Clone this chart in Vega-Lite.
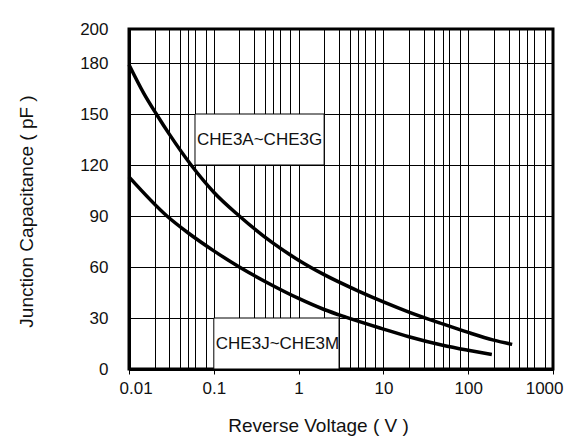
{
  "$schema": "https://vega.github.io/schema/vega-lite/v6.json",
  "width": 424,
  "height": 340,
  "autosize": {"type": "none"},
  "padding": {"left": 129, "top": 29, "right": 17, "bottom": 69},
  "background": "white",
  "config": {
    "view": {"stroke": "black", "strokeWidth": 3},
    "font": "Liberation Sans",
    "axis": {
      "gridColor": "black",
      "gridOpacity": 1,
      "gridWidth": 1,
      "domainColor": "black",
      "domainWidth": 3,
      "tickColor": "black",
      "labelColor": "#111",
      "titleColor": "#111",
      "labelFont": "Liberation Sans",
      "titleFont": "Liberation Sans",
      "labelFontSize": 17,
      "titleFontSize": 19,
      "titleFontWeight": "normal"
    }
  },
  "datasets": {
    "curves": [
      {"series": "CHE3A~CHE3G", "v": 0.01, "c": 179},
      {"series": "CHE3A~CHE3G", "v": 0.015, "c": 162},
      {"series": "CHE3A~CHE3G", "v": 0.021, "c": 150},
      {"series": "CHE3A~CHE3G", "v": 0.03, "c": 138},
      {"series": "CHE3A~CHE3G", "v": 0.054, "c": 120},
      {"series": "CHE3A~CHE3G", "v": 0.1, "c": 104},
      {"series": "CHE3A~CHE3G", "v": 0.2, "c": 90},
      {"series": "CHE3A~CHE3G", "v": 0.5, "c": 74},
      {"series": "CHE3A~CHE3G", "v": 1, "c": 64},
      {"series": "CHE3A~CHE3G", "v": 2, "c": 55.5},
      {"series": "CHE3A~CHE3G", "v": 5, "c": 46},
      {"series": "CHE3A~CHE3G", "v": 10, "c": 39.5},
      {"series": "CHE3A~CHE3G", "v": 20, "c": 33.5},
      {"series": "CHE3A~CHE3G", "v": 50, "c": 26.5},
      {"series": "CHE3A~CHE3G", "v": 100, "c": 21.5},
      {"series": "CHE3A~CHE3G", "v": 200, "c": 17},
      {"series": "CHE3A~CHE3G", "v": 330, "c": 14.5},
      {"series": "CHE3J~CHE3M", "v": 0.01, "c": 113},
      {"series": "CHE3J~CHE3M", "v": 0.028, "c": 90},
      {"series": "CHE3J~CHE3M", "v": 0.05, "c": 80},
      {"series": "CHE3J~CHE3M", "v": 0.1, "c": 69.5},
      {"series": "CHE3J~CHE3M", "v": 0.2, "c": 60},
      {"series": "CHE3J~CHE3M", "v": 0.5, "c": 49},
      {"series": "CHE3J~CHE3M", "v": 1, "c": 41.5},
      {"series": "CHE3J~CHE3M", "v": 2, "c": 35},
      {"series": "CHE3J~CHE3M", "v": 3.6, "c": 30.5},
      {"series": "CHE3J~CHE3M", "v": 10, "c": 23.5},
      {"series": "CHE3J~CHE3M", "v": 20, "c": 19},
      {"series": "CHE3J~CHE3M", "v": 50, "c": 14},
      {"series": "CHE3J~CHE3M", "v": 100, "c": 11},
      {"series": "CHE3J~CHE3M", "v": 190, "c": 8.5}
    ],
    "labels": [
      {"series": "CHE3A~CHE3G", "v0": 0.06, "v1": 2, "c0": 120, "c1": 150, "cm": 135},
      {"series": "CHE3J~CHE3M", "v0": 0.1, "v1": 3, "c0": 0, "c1": 30, "cm": 15}
    ]
  },
  "layer": [
    {
      "data": {"name": "labels"},
      "mark": {"type": "rect", "fill": "white", "stroke": "black", "strokeWidth": 1},
      "encoding": {
        "x": {
          "field": "v0", "type": "quantitative",
          "scale": {"type": "log", "domain": [0.01, 1000]},
          "axis": {
            "title": "Reverse Voltage ( V )",
            "values": [0.01,0.02,0.03,0.04,0.05,0.06,0.08,0.1,0.2,0.3,0.4,0.5,0.6,0.8,1,2,3,4,5,6,8,10,20,30,40,50,60,80,100,200,300,400,500,600,800,1000],
            "labelExpr": "abs(log(datum.value)/LN10 - round(log(datum.value)/LN10)) < 0.000001 ? format(datum.value, '~g') : ''",
            "tickSize": 5,
            "tickOpacity": {"condition": {"test": "abs(log(datum.value)/LN10 - round(log(datum.value)/LN10)) < 0.000001", "value": 1}, "value": 0},
            "labelPadding": 6,
            "labelFlush": true,
            "labelFlushOffset": 10,
            "labelOverlap": false,
            "titleX": 189,
            "titleY": 47,
            "titleAlign": "center",
            "titleBaseline": "top"
          }
        },
        "x2": {"field": "v1"},
        "y": {
          "field": "c0", "type": "quantitative",
          "scale": {"domain": [0, 200]},
          "axis": {
            "title": "Junction Capacitance ( pF )",
            "values": [0, 30, 60, 90, 120, 150, 180, 200],
            "ticks": false,
            "labelPadding": 21,
            "titleX": -93,
            "titleY": 182,
            "titleAlign": "center",
            "titleBaseline": "bottom",
            "titleAngle": -90
          }
        },
        "y2": {"field": "c1"}
      }
    },
    {
      "data": {"name": "labels"},
      "mark": {"type": "text", "align": "left", "baseline": "middle", "dx": 2, "fontSize": 17, "font": "Liberation Sans", "color": "#111"},
      "encoding": {
        "x": {"field": "v0", "type": "quantitative"},
        "y": {"field": "cm", "type": "quantitative"},
        "text": {"field": "series"}
      }
    },
    {
      "data": {"name": "curves"},
      "mark": {"type": "line", "color": "black", "strokeWidth": 3.5, "interpolate": "monotone"},
      "encoding": {
        "x": {"field": "v", "type": "quantitative"},
        "y": {"field": "c", "type": "quantitative"},
        "detail": {"field": "series"}
      }
    }
  ]
}
